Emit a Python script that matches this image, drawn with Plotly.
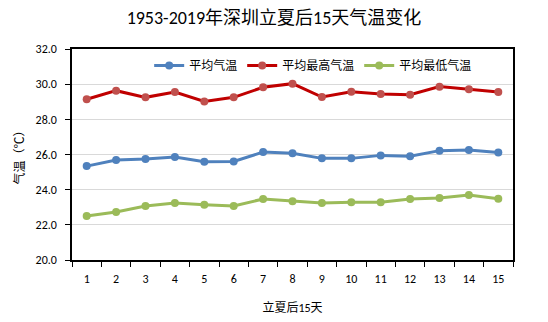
import plotly.graph_objects as go

days = [str(i) for i in range(1, 16)]
avg_temp = [25.34, 25.69, 25.74, 25.86, 25.59, 25.60, 26.14, 26.07, 25.78, 25.78, 25.95, 25.90, 26.22, 26.26, 26.12]
max_temp = [29.14, 29.63, 29.25, 29.55, 29.02, 29.25, 29.82, 30.03, 29.27, 29.57, 29.44, 29.40, 29.86, 29.71, 29.55]
min_temp = [22.50, 22.73, 23.07, 23.24, 23.14, 23.07, 23.47, 23.34, 23.24, 23.28, 23.28, 23.47, 23.52, 23.69, 23.48]
y_ticks = [20, 22, 24, 26, 28, 30, 32]

FONT = "Calibri, Carlito, 'Liberation Sans', 'Noto Sans CJK SC', sans-serif"

fig = go.Figure()
fig.add_trace(go.Scatter(x=days, y=avg_temp, name="平均气温", mode="lines+markers",
                         line=dict(color="#4F81BD", width=3),
                         marker=dict(color="#4F81BD", size=8)))
fig.add_trace(go.Scatter(x=days, y=max_temp, name="平均最高气温", mode="lines+markers",
                         line=dict(color="#C00000", width=3),
                         marker=dict(color="#C0504D", size=8)))
fig.add_trace(go.Scatter(x=days, y=min_temp, name="平均最低气温", mode="lines+markers",
                         line=dict(color="#9BBB59", width=3),
                         marker=dict(color="#9BBB59", size=8)))

fig.update_layout(
    width=548, height=322,
    margin=dict(l=72, r=35, t=49, b=62),
    paper_bgcolor="white", plot_bgcolor="white",
    font=dict(family=FONT, size=12, color="#000000"),
    title=dict(text="1953-2019年深圳立夏后15天气温变化", x=0.5, xanchor="center",
               y=0.945, yanchor="middle", font=dict(size=18, color="#000000")),
    showlegend=True,
    legend=dict(orientation="h", x=0.175, xanchor="left", y=0.99, yanchor="top",
                font=dict(size=12, color="#000000"), bgcolor="rgba(0,0,0,0)",
                itemwidth=30, tracegroupgap=0),
    xaxis=dict(type="category", range=[-0.5, 14.5], tickson="boundaries",
               ticks="outside", ticklen=5, ticklabelstandoff=7, automargin=False,
               tickfont=dict(size=12, color="#000000"),
               tickcolor="black", showline=True, linecolor="black", linewidth=1.5,
               mirror=True, showgrid=False,
               title=dict(text="立夏后15天", font=dict(size=12, color="#000000"), standoff=18)),
    yaxis=dict(range=[20, 32], tickvals=y_ticks, tickformat=".1f", ticks="outside",
               ticklen=5, ticklabelstandoff=6, tickcolor="black", showline=True,
               automargin=False,
               tickfont=dict(size=12, color="#000000"),
               linecolor="black", linewidth=1.5, mirror=True, showgrid=True,
               gridcolor="#D9D9D9", zeroline=False,
               title=dict(text="气温（℃）", font=dict(size=12, color="#000000"), standoff=8)),
)

fig.write_html("out.html")
